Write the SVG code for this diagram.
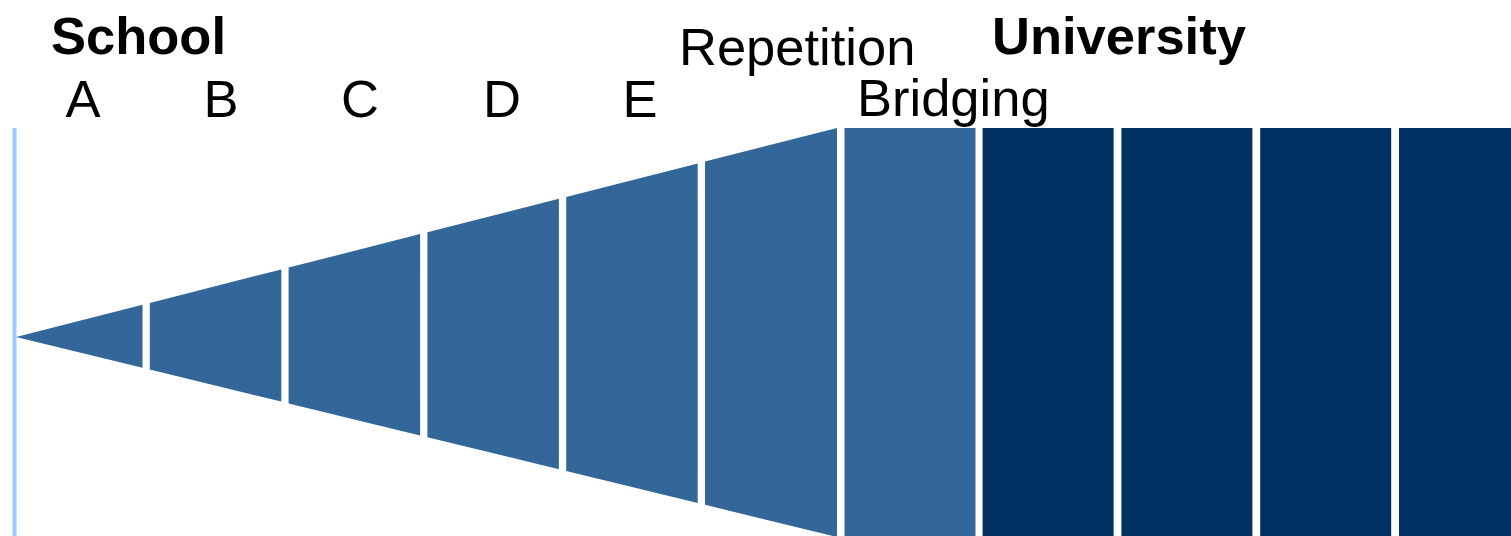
<svg xmlns="http://www.w3.org/2000/svg" width="1511" height="536" viewBox="0 0 1511 536">
<style>
.mid{fill:#336699}
.dark{fill:#003163}
.t{font-family:"Liberation Sans",Arial,sans-serif;fill:#000}
.b{font-weight:bold;font-size:52.5px}
.r{font-size:52.5px}
</style>
<rect width="1511" height="536" fill="#fff"/>
<g id="axis"><rect x="12.5" y="128" width="4" height="408" fill="#99ccff"/></g>
<g id="wedge">
<polygon id="segA" class="mid" points="16,337 142.5,304.8 142.5,367.8"/>
<polygon id="segB" class="mid" points="149.8,302.9 281.3,269.4 281.3,401.6 149.8,369.6"/>
<polygon id="segC" class="mid" points="288.6,267.6 420.1,234.1 420.1,435.4 288.6,403.4"/>
<polygon id="segD" class="mid" points="427.4,232.3 558.9,198.8 558.9,469.3 427.4,437.2"/>
<polygon id="segE" class="mid" points="566.2,197.0 697.7,163.5 697.7,503.1 566.2,471.0"/>
<polygon id="segRep" class="mid" points="705,161.6 837,128 837,537 705,504.8"/>
</g>
<g id="bridging"><rect class="mid" x="844.5" y="128" width="131" height="408"/></g>
<g id="university">
<rect class="dark" x="982.6" y="128" width="131" height="408"/>
<rect class="dark" x="1121.4" y="128" width="131" height="408"/>
<rect class="dark" x="1260.2" y="128" width="131" height="408"/>
<rect class="dark" x="1399" y="128" width="112" height="408"/>
</g>
<g id="labels">
<text class="t b" x="51" y="54">School</text>
<text class="t b" x="992" y="54">University</text>
<text class="t r" x="83" y="117" text-anchor="middle">A</text>
<text class="t r" x="221" y="117" text-anchor="middle">B</text>
<text class="t r" x="360" y="117" text-anchor="middle">C</text>
<text class="t r" x="502" y="117" text-anchor="middle">D</text>
<text class="t r" x="640" y="117" text-anchor="middle">E</text>
<text class="t r" x="679" y="65">Repetition</text>
<text class="t r" x="857" y="116">Bridging</text>
</g>
</svg>
